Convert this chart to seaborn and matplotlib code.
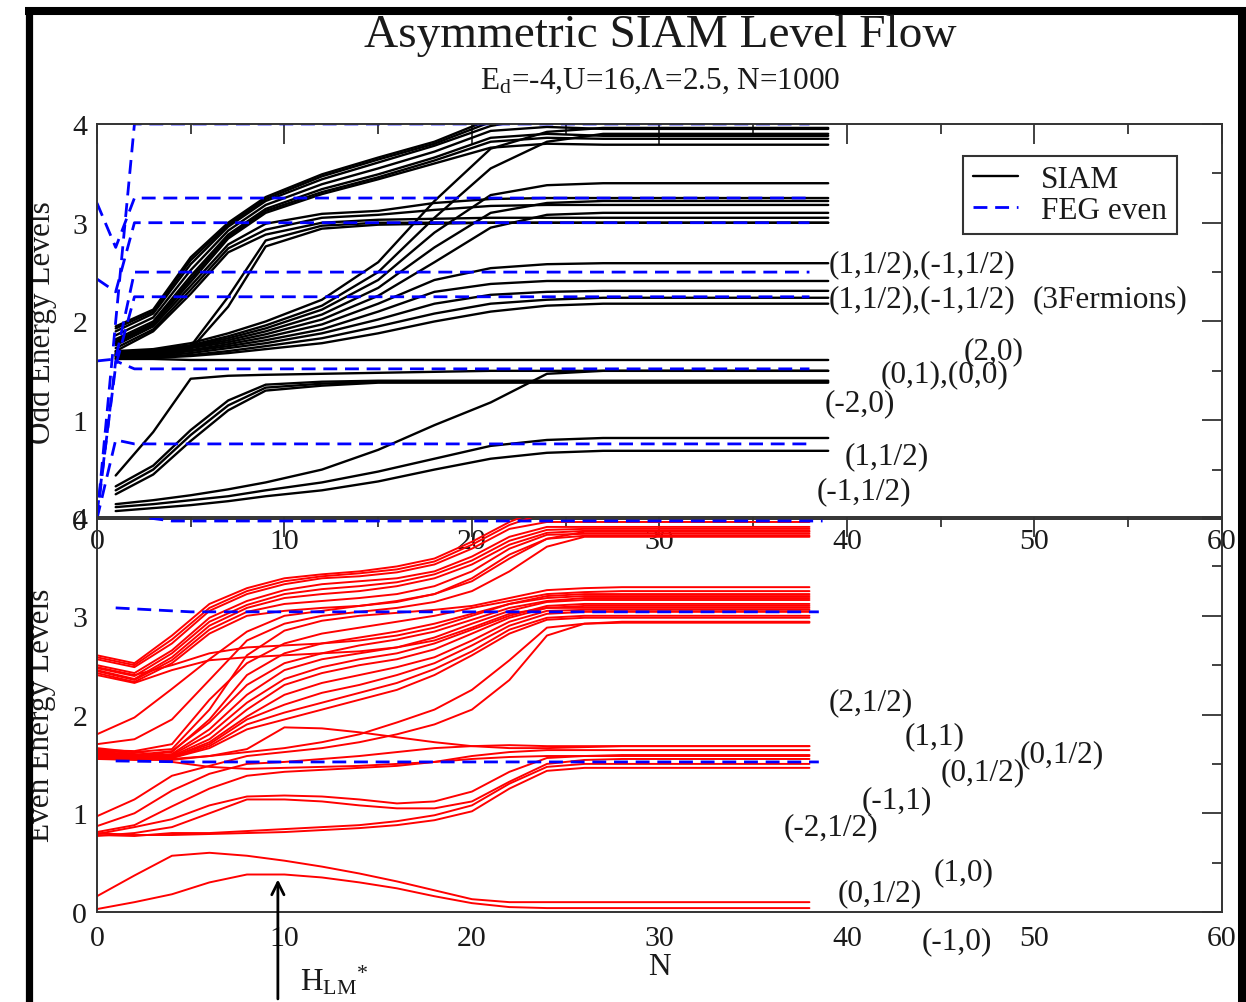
import numpy as np
import pandas as pd
import matplotlib
matplotlib.use("Agg")
import matplotlib.pyplot as plt
import seaborn as sns
from matplotlib.lines import Line2D
from matplotlib.ticker import MultipleLocator

# ---------------- data ----------------
odd_N = [1, 3, 5, 7, 9, 12, 15, 18, 21, 24, 27, 39]
odd_top = [
    [1.95, 2.12, 2.65, 3.00, 3.26, 3.49, 3.66, 3.82, 4.05, 4.20, 4.25, 4.25],
    [1.93, 2.10, 2.62, 2.98, 3.24, 3.47, 3.64, 3.80, 4.02, 4.15, 4.18, 4.18],
    [1.90, 2.08, 2.58, 2.96, 3.22, 3.44, 3.61, 3.78, 3.98, 4.08, 4.10, 4.10],
    [1.86, 2.04, 2.52, 2.92, 3.18, 3.39, 3.55, 3.72, 3.93, 3.97, 3.95, 3.95],
    [1.82, 2.00, 2.46, 2.88, 3.14, 3.34, 3.49, 3.66, 3.86, 3.90, 3.88, 3.88],
    [1.80, 1.98, 2.43, 2.86, 3.12, 3.31, 3.46, 3.63, 3.82, 3.86, 3.85, 3.85],
    [1.78, 1.97, 2.40, 2.84, 3.10, 3.29, 3.44, 3.60, 3.76, 3.80, 3.79, 3.79],
]
odd_second = [
    [1.76, 1.95, 2.36, 2.78, 2.99, 3.09, 3.12, 3.20, 3.24, 3.25, 3.25, 3.25],
    [1.73, 1.92, 2.32, 2.74, 2.93, 3.05, 3.08, 3.13, 3.17, 3.18, 3.18, 3.18],
    [1.70, 1.90, 2.28, 2.70, 2.88, 3.00, 3.03, 3.04, 3.05, 3.05, 3.05, 3.05],
]
odd_late = [
    [1.67, 1.70, 1.75, 2.25, 2.82, 2.97, 3.00, 3.00, 3.00, 3.00, 3.00, 3.00],
    [1.65, 1.68, 1.72, 2.15, 2.76, 2.94, 2.98, 2.99, 3.00, 3.00, 3.00, 3.00],
]
odd_middle = [
    [1.70, 1.72, 1.78, 1.88, 2.00, 2.22, 2.60, 3.22, 3.75, 3.92, 3.96, 3.96],
    [1.69, 1.71, 1.76, 1.85, 1.96, 2.16, 2.50, 3.05, 3.55, 3.82, 3.90, 3.90],
    [1.68, 1.70, 1.75, 1.83, 1.93, 2.12, 2.42, 2.90, 3.28, 3.38, 3.40, 3.40],
    [1.67, 1.69, 1.74, 1.81, 1.90, 2.07, 2.34, 2.75, 3.10, 3.20, 3.22, 3.22],
    [1.66, 1.68, 1.73, 1.79, 1.87, 2.02, 2.26, 2.60, 2.95, 3.08, 3.10, 3.10],
    [1.66, 1.67, 1.71, 1.77, 1.84, 1.97, 2.18, 2.42, 2.54, 2.58, 2.59, 2.59],
    [1.65, 1.66, 1.70, 1.75, 1.81, 1.92, 2.10, 2.30, 2.38, 2.41, 2.41, 2.41],
    [1.64, 1.65, 1.68, 1.73, 1.78, 1.88, 2.02, 2.18, 2.27, 2.30, 2.31, 2.31],
    [1.63, 1.64, 1.66, 1.70, 1.75, 1.83, 1.95, 2.08, 2.18, 2.22, 2.24, 2.24],
    [1.62, 1.63, 1.65, 1.68, 1.72, 1.78, 1.88, 2.00, 2.10, 2.16, 2.18, 2.18],
]
odd_flat = [
    [1.62, 1.62, 1.61, 1.61, 1.61, 1.61, 1.61, 1.61, 1.61, 1.61, 1.61, 1.61],
    [0.44, 0.88, 1.42, 1.45, 1.46, 1.47, 1.48, 1.49, 1.50, 1.50, 1.50, 1.50],
]
odd_low = [
    [0.33, 0.54, 0.90, 1.20, 1.36, 1.39, 1.40, 1.40, 1.40, 1.40, 1.40, 1.40],
    [0.29, 0.50, 0.85, 1.15, 1.33, 1.37, 1.39, 1.39, 1.39, 1.39, 1.39, 1.39],
    [0.25, 0.45, 0.79, 1.10, 1.30, 1.35, 1.38, 1.38, 1.38, 1.38, 1.38, 1.38],
    [0.15, 0.19, 0.24, 0.30, 0.37, 0.50, 0.70, 0.95, 1.18, 1.47, 1.50, 1.50],
    [0.12, 0.15, 0.19, 0.23, 0.29, 0.37, 0.48, 0.61, 0.74, 0.80, 0.82, 0.82],
    [0.08, 0.11, 0.14, 0.18, 0.23, 0.29, 0.38, 0.50, 0.61, 0.67, 0.69, 0.69],
]

feg_odd_N = [0, 1, 2, 38]
feg_odd = [
    [0.00, 2.00, 4.00, 4.00],
    [3.20, 2.75, 3.25, 3.25],
    [2.43, 2.30, 3.00, 3.00],
    [1.60, 1.62, 2.50, 2.50],
    [0.05, 1.55, 2.25, 2.25],
    [0.00, 1.60, 1.52, 1.52],
    [0.00, 0.80, 0.76, 0.76],
]

even_N = [0, 2, 4, 6, 8, 10, 12, 14, 16, 18, 20, 22, 24, 26, 28, 38]
even_top = [
    [2.60, 2.52, 2.80, 3.12, 3.28, 3.38, 3.42, 3.45, 3.50, 3.58, 3.75, 3.95, 4.10, 4.20, 4.20, 4.20],
    [2.58, 2.50, 2.76, 3.08, 3.25, 3.35, 3.40, 3.43, 3.47, 3.55, 3.72, 3.92, 4.05, 4.10, 4.10, 4.10],
    [2.56, 2.48, 2.72, 3.05, 3.22, 3.32, 3.38, 3.40, 3.44, 3.52, 3.68, 3.88, 3.95, 3.95, 3.95, 3.95],
    [2.50, 2.42, 2.65, 2.98, 3.15, 3.26, 3.32, 3.35, 3.38, 3.45, 3.60, 3.80, 3.90, 3.90, 3.90, 3.90],
    [2.47, 2.39, 2.62, 2.94, 3.11, 3.22, 3.27, 3.30, 3.34, 3.42, 3.56, 3.76, 3.87, 3.88, 3.88, 3.88],
    [2.45, 2.36, 2.58, 2.90, 3.08, 3.18, 3.22, 3.25, 3.30, 3.38, 3.52, 3.72, 3.84, 3.86, 3.86, 3.86],
    [2.44, 2.35, 2.55, 2.86, 3.04, 3.12, 3.15, 3.18, 3.22, 3.30, 3.45, 3.68, 3.82, 3.83, 3.83, 3.83],
    [2.42, 2.33, 2.52, 2.82, 3.00, 3.05, 3.08, 3.10, 3.14, 3.22, 3.38, 3.62, 3.78, 3.81, 3.81, 3.81],
]
even_mid = [
    [1.80, 1.97, 2.26, 2.56, 2.84, 3.00, 3.05, 3.10, 3.15, 3.22, 3.35, 3.58, 3.78, 3.85, 3.85, 3.85],
    [1.70, 1.75, 1.95, 2.35, 2.75, 2.92, 3.00, 3.04, 3.08, 3.14, 3.25, 3.45, 3.70, 3.80, 3.80, 3.80],
    [1.63, 1.62, 1.65, 2.05, 2.60, 2.85, 2.95, 3.00, 3.03, 3.06, 3.10, 3.18, 3.26, 3.28, 3.29, 3.29],
    [1.64, 1.63, 1.70, 2.15, 2.52, 2.72, 2.82, 2.88, 2.94, 3.00, 3.08, 3.15, 3.22, 3.24, 3.25, 3.25],
    [1.60, 1.58, 1.62, 1.95, 2.40, 2.62, 2.72, 2.78, 2.84, 2.92, 3.02, 3.12, 3.20, 3.22, 3.22, 3.22],
    [1.61, 1.59, 1.63, 1.92, 2.30, 2.52, 2.62, 2.70, 2.76, 2.84, 2.96, 3.08, 3.15, 3.18, 3.18, 3.18],
    [1.58, 1.56, 1.60, 1.85, 2.20, 2.45, 2.56, 2.62, 2.68, 2.78, 2.92, 3.05, 3.14, 3.16, 3.16, 3.16],
    [1.59, 1.57, 1.59, 1.80, 2.12, 2.36, 2.48, 2.56, 2.62, 2.72, 2.86, 3.00, 3.10, 3.12, 3.12, 3.12],
    [1.66, 1.62, 1.58, 1.75, 2.05, 2.30, 2.42, 2.50, 2.56, 2.66, 2.82, 2.98, 3.08, 3.10, 3.10, 3.10],
    [1.57, 1.56, 1.57, 1.72, 1.98, 2.20, 2.32, 2.40, 2.48, 2.58, 2.75, 2.94, 3.05, 3.06, 3.06, 3.06],
    [1.62, 1.60, 1.57, 1.70, 1.95, 2.10, 2.22, 2.30, 2.40, 2.52, 2.70, 2.90, 3.02, 3.04, 3.04, 3.04],
    [1.57, 1.55, 1.56, 1.68, 1.90, 2.02, 2.12, 2.22, 2.32, 2.46, 2.64, 2.86, 2.98, 3.00, 3.00, 3.00],
    [1.58, 1.58, 1.56, 1.66, 1.85, 1.95, 2.05, 2.15, 2.25, 2.40, 2.60, 2.82, 2.96, 2.98, 2.98, 2.98],
    [1.56, 1.55, 1.55, 1.58, 1.65, 1.87, 1.86, 1.82, 1.77, 1.72, 1.68, 1.66, 1.66, 1.67, 1.68, 1.68],
    [1.55, 1.54, 1.54, 1.58, 1.62, 1.66, 1.72, 1.80, 1.92, 2.05, 2.25, 2.55, 2.88, 2.92, 2.93, 2.93],
    [2.48, 2.40, 2.50, 2.62, 2.68, 2.70, 2.72, 2.75, 2.80, 2.88, 3.00, 3.12, 3.18, 3.20, 3.20, 3.20],
    [2.40, 2.32, 2.45, 2.55, 2.58, 2.60, 2.62, 2.64, 2.68, 2.75, 2.88, 3.02, 3.08, 3.08, 3.08, 3.08],
]
even_low = [
    [0.97, 1.14, 1.38, 1.48, 1.58, 1.62, 1.66, 1.72, 1.80, 1.90, 2.05, 2.35, 2.80, 2.92, 2.94, 2.94],
    [0.87, 1.00, 1.23, 1.40, 1.50, 1.52, 1.55, 1.58, 1.62, 1.66, 1.68, 1.69, 1.68, 1.68, 1.68, 1.68],
    [0.81, 0.88, 1.07, 1.25, 1.38, 1.42, 1.44, 1.46, 1.48, 1.52, 1.58, 1.62, 1.64, 1.64, 1.64, 1.64],
    [0.79, 0.86, 0.94, 1.08, 1.17, 1.18, 1.17, 1.14, 1.10, 1.12, 1.22, 1.42, 1.56, 1.58, 1.59, 1.59],
    [0.77, 0.80, 0.86, 1.00, 1.14, 1.14, 1.12, 1.08, 1.05, 1.05, 1.12, 1.32, 1.50, 1.54, 1.55, 1.55],
    [0.78, 0.77, 0.80, 0.80, 0.82, 0.84, 0.86, 0.88, 0.92, 0.98, 1.08, 1.30, 1.47, 1.50, 1.50, 1.50],
    [0.80, 0.78, 0.78, 0.79, 0.80, 0.81, 0.83, 0.85, 0.88, 0.93, 1.02, 1.25, 1.43, 1.46, 1.46, 1.46],
    [1.65, 1.60, 1.52, 1.47, 1.45, 1.46, 1.47, 1.48, 1.50, 1.52, 1.55, 1.57, 1.58, 1.58, 1.58, 1.58],
]
even_ground = [
    [0.16, 0.37, 0.57, 0.60, 0.57, 0.52, 0.46, 0.39, 0.31, 0.22, 0.13, 0.10, 0.10, 0.10, 0.10, 0.10],
    [0.03, 0.10, 0.18, 0.30, 0.38, 0.38, 0.35, 0.30, 0.24, 0.16, 0.09, 0.05, 0.04, 0.04, 0.04, 0.04],
]

feg_even_N = [1, 5, 38.5]
feg_even = [
    [3.08, 3.04, 3.04],
    [1.53, 1.52, 1.52],
]
feg_edge_N = [2.8, 4.0, 38.7]
feg_edge = [3.99, 3.96, 3.96]

odd_labels = [
    ("(1,1/2),(-1,1/2)", 39.0, 2.58),
    ("(1,1/2),(-1,1/2)", 39.0, 2.23),
    ("(3Fermions)", 49.9, 2.23),
    ("(2,0)", 46.2, 1.70),
    ("(0,1),(0,0)", 41.8, 1.47),
    ("(-2,0)", 38.8, 1.18),
    ("(1,1/2)", 39.9, 0.64),
    ("(-1,1/2)", 38.4, 0.29),
]
even_labels = [
    ("(2,1/2)", 39.0, 2.13),
    ("(1,1)", 43.1, 1.79),
    ("(0,1/2)", 45.0, 1.42),
    ("(0,1/2)", 49.2, 1.60),
    ("(-1,1)", 40.8, 1.14),
    ("(-2,1/2)", 36.6, 0.86),
    ("(1,0)", 44.6, 0.41),
    ("(0,1/2)", 39.5, 0.20),
    ("(-1,0)", 44.0, -0.29),
]
x_ticks = [0, 10, 20, 30, 40, 50, 60]
y_ticks = [0, 1, 2, 3, 4]
hlm_N = 9.65


def to_long(n_vals, groups, prefix):
    rows = []
    k = 0
    for g in groups:
        for line in g:
            for n, e in zip(n_vals, line):
                rows.append((f"{prefix}{k}", n, e))
            k += 1
    return pd.DataFrame(rows, columns=["level", "N", "E"])


# ---------------- style ----------------
sns.set_style("white")
plt.rcParams["font.family"] = ["Liberation Serif", "DejaVu Serif"]
plt.rcParams["mathtext.fontset"] = "custom"
plt.rcParams["mathtext.rm"] = "Liberation Serif"
plt.rcParams["mathtext.it"] = "Liberation Serif:italic"
plt.rcParams["mathtext.bf"] = "Liberation Serif:bold"
TXT = "#1a1a1a"

fig = plt.figure(figsize=(12.46, 10.03), dpi=100)
fig.patch.set_facecolor("white")
ax1 = fig.add_axes([0.0778, 0.4816, 0.9029, 0.3938])
ax2 = fig.add_axes([0.0778, 0.0897, 0.9029, 0.3938])
ax2.patch.set_alpha(0)

DASH = (5.0, 2.8)

# upper: odd levels
df_odd = to_long(odd_N, [odd_top, odd_second, odd_late, odd_middle, odd_flat, odd_low], "o")
sns.lineplot(data=df_odd, x="N", y="E", units="level", estimator=None, sort=False,
             color="black", linewidth=1.7, ax=ax1, legend=False)
n0 = len(ax1.lines)
df_feg_odd = to_long(feg_odd_N, [feg_odd], "f")
sns.lineplot(data=df_feg_odd, x="N", y="E", units="level", estimator=None, sort=False,
             color="#0000ff", linewidth=2.0, ax=ax1, legend=False)
for ln in ax1.lines[n0:]:
    ln.set_dashes(DASH)

# lower: even levels
df_even = to_long(even_N, [even_top, even_mid, even_low, even_ground], "e")
sns.lineplot(data=df_even, x="N", y="E", units="level", estimator=None, sort=False,
             color="#ff0000", linewidth=1.4, ax=ax2, legend=False)
n0 = len(ax2.lines)
df_feg_even = pd.concat([to_long(feg_even_N, [feg_even], "g"),
                         to_long(feg_edge_N, [[feg_edge]], "h")])
sns.lineplot(data=df_feg_even, x="N", y="E", units="level", estimator=None, sort=False,
             color="#0000ff", linewidth=2.0, ax=ax2, legend=False)
for ln in ax2.lines[n0:]:
    ln.set_dashes(DASH)
    ln.set_clip_on(False)

for ax in (ax1, ax2):
    ax.set_xlim(0, 60)
    ax.set_ylim(0, 4)
    ax.set_xticks(x_ticks)
    ax.set_yticks(y_ticks)
    ax.xaxis.set_minor_locator(MultipleLocator(5))
    ax.yaxis.set_minor_locator(MultipleLocator(0.5))
    ax.tick_params(which="major", direction="in", length=14.5, width=1.3,
                   top=True, right=True, labelsize=21.5, colors="#333333",
                   labelcolor=TXT)
    ax.tick_params(which="minor", direction="in", length=7.2, width=1.3,
                   top=True, right=True, colors="#333333")
    ax.tick_params(axis="y", pad=7)
    ax.tick_params(axis="x", pad=6.5)
    for sp in ax.spines.values():
        sp.set_color("#333333")
        sp.set_linewidth(1.4)
    ax.grid(False)
    ax.set_xlabel("")

ax2.tick_params(axis="x", pad=9)

ax1.set_ylabel("Odd Energy Levels", fontsize=22.5, color=TXT)
ax1.yaxis.set_label_coords(-0.0489, 0.5)
ax1.yaxis.label.set_va("center")
ax2.set_ylabel("Even Energy Levels", fontsize=22.5, color=TXT)
ax2.yaxis.set_label_coords(-0.0489, 0.5)
ax2.yaxis.label.set_va("center")
ax2.set_xlabel("N", fontsize=22.5, color=TXT)
ax2.xaxis.set_label_coords(0.5, -0.139)
ax2.xaxis.label.set_va("center")

for txt, xn, ye in odd_labels:
    ax1.text(xn, ye, txt, fontsize=22.5, color=TXT, ha="left", va="center", clip_on=False)
for txt, xn, ye in even_labels:
    ax2.text(xn, ye, txt, fontsize=22.5, color=TXT, ha="left", va="center", clip_on=False)

# legend
handles = [Line2D([], [], color="black", lw=1.7),
           Line2D([], [], color="#0000ff", lw=2.0, dashes=DASH)]
leg = ax1.legend(handles, ["SIAM", "FEG even"], loc="upper left",
                 bbox_to_anchor=(0.770, 0.919), frameon=True, fancybox=False,
                 edgecolor="#333333", framealpha=1, fontsize=22.5,
                 handlelength=1.45, handletextpad=0.75, borderpad=0.3,
                 labelspacing=0.05, borderaxespad=0)
leg.get_frame().set_linewidth(1.5)
for t in leg.get_texts():
    t.set_color(TXT)

# H_LM* arrow
ax2.annotate("", xy=(hlm_N, 0.33), xytext=(hlm_N, -0.88),
             xycoords="data", textcoords="data", annotation_clip=False,
             arrowprops=dict(arrowstyle="->", lw=2.0, color="black",
                             mutation_scale=22, shrinkA=0, shrinkB=0))
ax2.text(10.83, -0.78, r"$\mathrm{H}_{\mathrm{LM}}{}^{*}$", fontsize=22.5,
         color=TXT, ha="left", va="baseline", clip_on=False)

# titles
fig.text(0.5297, 0.9531, "Asymmetric SIAM Level Flow", fontsize=34, color=TXT,
         ha="center", va="baseline")
fig.text(0.5297, 0.9113, r"E$_{\mathrm{d}}$=-4,U=16,Λ=2.5, N=1000", fontsize=22.5,
         color=TXT, ha="center", va="baseline")

# black frame
W, H = 1246.0, 1003.0
for xs, ys, lw in [([25 / W, 1246 / W], [1 - 12 / H, 1 - 12 / H], 5.8),
                   ([28.5 / W, 28.5 / W], [1 - 8 / H, -0.01], 5.2),
                   ([1241.5 / W, 1241.5 / W], [1 - 8 / H, -0.01], 6.5)]:
    fig.add_artist(Line2D(xs, ys, transform=fig.transFigure, color="black",
                          lw=lw, solid_capstyle="butt"))

fig.savefig("out.png", dpi=100, facecolor="white")
